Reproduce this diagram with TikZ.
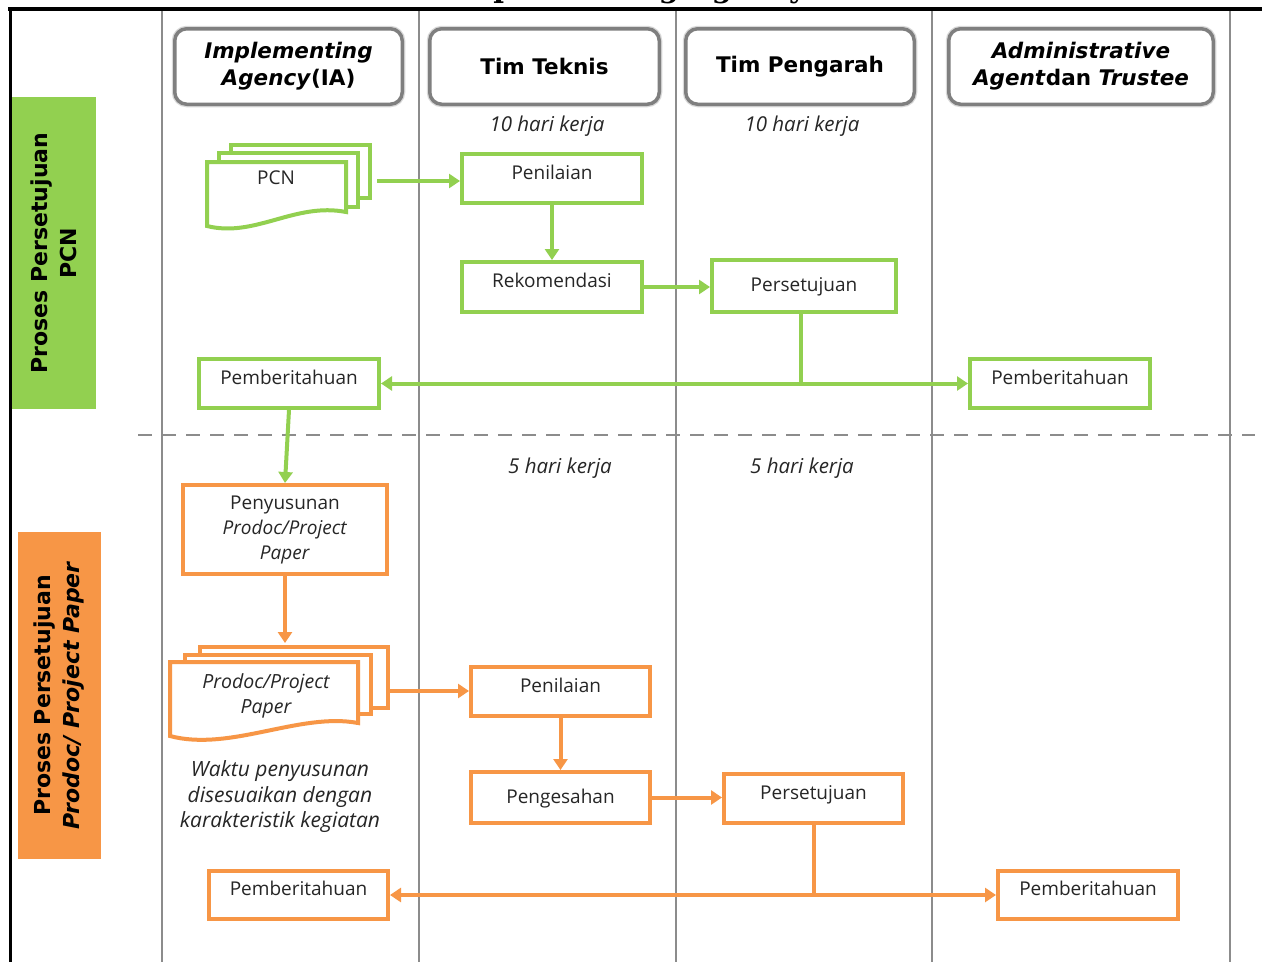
\documentclass[tikz,border=0pt]{standalone}
\usepackage{fontspec}
\setmainfont{Open Sans}
\newfontfamily\hdrfont{DejaVu Sans}
\newfontfamily\ttlfont{DejaVu Serif}
\usetikzlibrary{arrows.meta}
\definecolor{gcol}{HTML}{92D050}
\definecolor{ocol}{HTML}{F79646}
\definecolor{lanegray}{HTML}{8C8C8C}
\definecolor{hdrgray}{HTML}{7F7F7F}
\definecolor{txt}{HTML}{262626}
\begin{document}
\begin{tikzpicture}[x=1pt,y=-1pt,
  hdrbox/.style={draw=hdrgray, line width=3.5pt, rounded corners=12pt, fill=white,
    preaction={draw=gray!30, line width=6pt},
    align=center, font=\hdrfont\bfseries\fontsize{21.5}{27}\selectfont, minimum height=75.5pt},
  gbox/.style={draw=gcol, line width=4pt, fill=white, font=\fontsize{19}{24}\selectfont,
    text=txt, text height=14pt, text depth=13pt},
  obox/.style={gbox, draw=ocol},
  ctr/.style={text depth=3pt},
  multi/.style={text height=, text depth=, align=center, font=\fontsize{19}{25}\selectfont},
  gdoc/.style={draw=gcol, line width=4pt, fill=white},
  odoc/.style={draw=ocol, line width=4pt, fill=white},
  garrow/.style={draw=gcol, line width=4pt, -{Triangle[width=14pt,length=11pt]}},
  oarrow/.style={garrow, draw=ocol},
  dur/.style={font=\itshape\fontsize{20.5}{24}\selectfont, text=txt},
  lane/.style={draw=lanegray, line width=2pt},
  phase/.style={rotate=90, align=center, font=\hdrfont\bfseries\fontsize{22}{29}\selectfont, text=black}
]
\useasboundingbox (0,0) rectangle (1262,962);
\fill[white] (0,0) rectangle (1262,962);

% cut-off title
\begin{scope}
\clip (0,0) rectangle (1262,7);
\node[anchor=base west, inner sep=0pt, font=\ttlfont\bfseries\fontsize{29}{30}\selectfont] (title) at (449,-3) {Implementing Agency};
\end{scope}

% frame
\draw[line width=4pt] (8,9) -- (1262,9);
\draw[line width=3pt] (10,7) -- (10,962);

% lanes
\foreach \lx in {162,419,676,932,1230} \draw[lane] (\lx,11) -- (\lx,962);

% phase separator
\draw[draw=lanegray, line width=2.5pt, dash pattern=on 14pt off 10pt] (138,435) -- (1255,435);

% phase labels
\node[phase, fill=gcol, minimum width=312pt, minimum height=84pt] (ph1) at (54,253) {Proses Persetujuan\\PCN};
\node[phase, fill=ocol, minimum width=327pt, minimum height=83pt] (ph2) at (59.5,695.5) {Proses Persetujuan\\\textit{Prodoc/ Project Paper}};

% headers
\node[hdrbox, minimum width=227.5pt] (h1) at (288.5,66.5) {\textit{Implementing}\\\textit{Agency}(IA)};
\node[hdrbox, minimum width=229.5pt] (h2) at (544.5,66.5) {Tim Teknis};
\node[hdrbox, minimum width=228.5pt] (h3) at (800,66.5) {Tim Pengarah};
\node[hdrbox, minimum width=264.5pt] (h4) at (1081,66.5) {\textit{Administrative}\\\textit{Agent}dan \textit{Trustee}};

% durations
\node[dur] (d1) at (547,126) {10 hari kerja};
\node[dur] (d2) at (802,126) {10 hari kerja};
\node[dur] (d3) at (560,468) {5 hari kerja};
\node[dur] (d4) at (802,468) {5 hari kerja};
\node[dur, align=center, font=\itshape\fontsize{21}{25.5}\selectfont] (note) at (280,797) {Waktu penyusunan\\disesuaikan dengan\\karakteristik kegiatan};

% PCN document stack
\draw[gdoc] (231,145) rectangle (370,198);
\draw[gdoc] (219,153) rectangle (358,207);
\draw[gdoc] (207,162) -- (346,162) -- (346,212) .. controls (295,202) and (255,238) .. (207,226) -- cycle;
\node[font=\fontsize{19}{24}\selectfont, text=txt] (pcn) at (276,178) {PCN};
\coordinate (pcnR) at (377,181);

% Prodoc document stack
\draw[odoc] (200,647) rectangle (388,708);
\draw[odoc] (185,655) rectangle (371,714);
\draw[odoc] (170,662) -- (358,662) -- (358,723) .. controls (300,712) and (230,752) .. (170,736) -- cycle;
\node[align=center, font=\itshape\fontsize{19.5}{25}\selectfont, text=txt] (prodoc) at (266,696) {Prodoc/Project\\Paper};
\coordinate (docT) at (285,643);
\coordinate (docR) at (390,691);

% green process boxes
\node[gbox, minimum width=180pt, minimum height=49pt] (pen1) at (552,178.5) {Penilaian};
\node[gbox, minimum width=180pt, minimum height=50pt] (rek) at (552,287) {Rekomendasi};
\node[gbox, ctr, minimum width=184pt, minimum height=52pt] (per1) at (804,286) {Persetujuan};
\node[gbox, minimum width=180pt, minimum height=49pt] (pemb1) at (289,383.5) {Pemberitahuan};
\node[gbox, minimum width=180pt, minimum height=49pt] (pemb2) at (1060,383.5) {Pemberitahuan};

% orange process boxes
\node[obox, multi, minimum width=204pt, minimum height=89pt] (peny) at (285,529.5) {Penyusunan\\\textit{Prodoc/Project}\\\textit{Paper}};
\node[obox, minimum width=179pt, minimum height=49pt] (pen2) at (560.5,691.5) {Penilaian};
\node[obox, ctr, minimum width=179pt, minimum height=51pt] (peng) at (560.5,797.5) {Pengesahan};
\node[obox, minimum width=179pt, minimum height=49pt] (per2) at (813.5,798.5) {Persetujuan};
\node[obox, minimum width=179pt, minimum height=48pt] (pemb3) at (298.5,895) {Pemberitahuan};
\node[obox, minimum width=180pt, minimum height=48pt] (pemb4) at (1088,895) {Pemberitahuan};

% green connectors
\draw[garrow] (pcnR) -- (pcnR -| pen1.west);
\draw[garrow] (pen1.south) -- (rek.north);
\draw[garrow] (rek.east) -- (rek.east -| per1.west);
\draw[garrow] ([xshift=-3pt]per1.south) |- (pemb1.east);
\draw[garrow] ([xshift=-3pt]per1.south) |- (pemb2.west);
\draw[garrow] (pemb1.south) -- (peny.north);

% orange connectors
\draw[oarrow] (peny.south) -- (docT);
\draw[oarrow] (docR) -- (docR -| pen2.west);
\draw[oarrow] (pen2.south) -- (peng.north);
\draw[oarrow] (peng.east) -- (peng.east -| per2.west);
\draw[oarrow] (per2.south) |- (pemb3.east);
\draw[oarrow] (per2.south) |- (pemb4.west);
\end{tikzpicture}
\end{document}
